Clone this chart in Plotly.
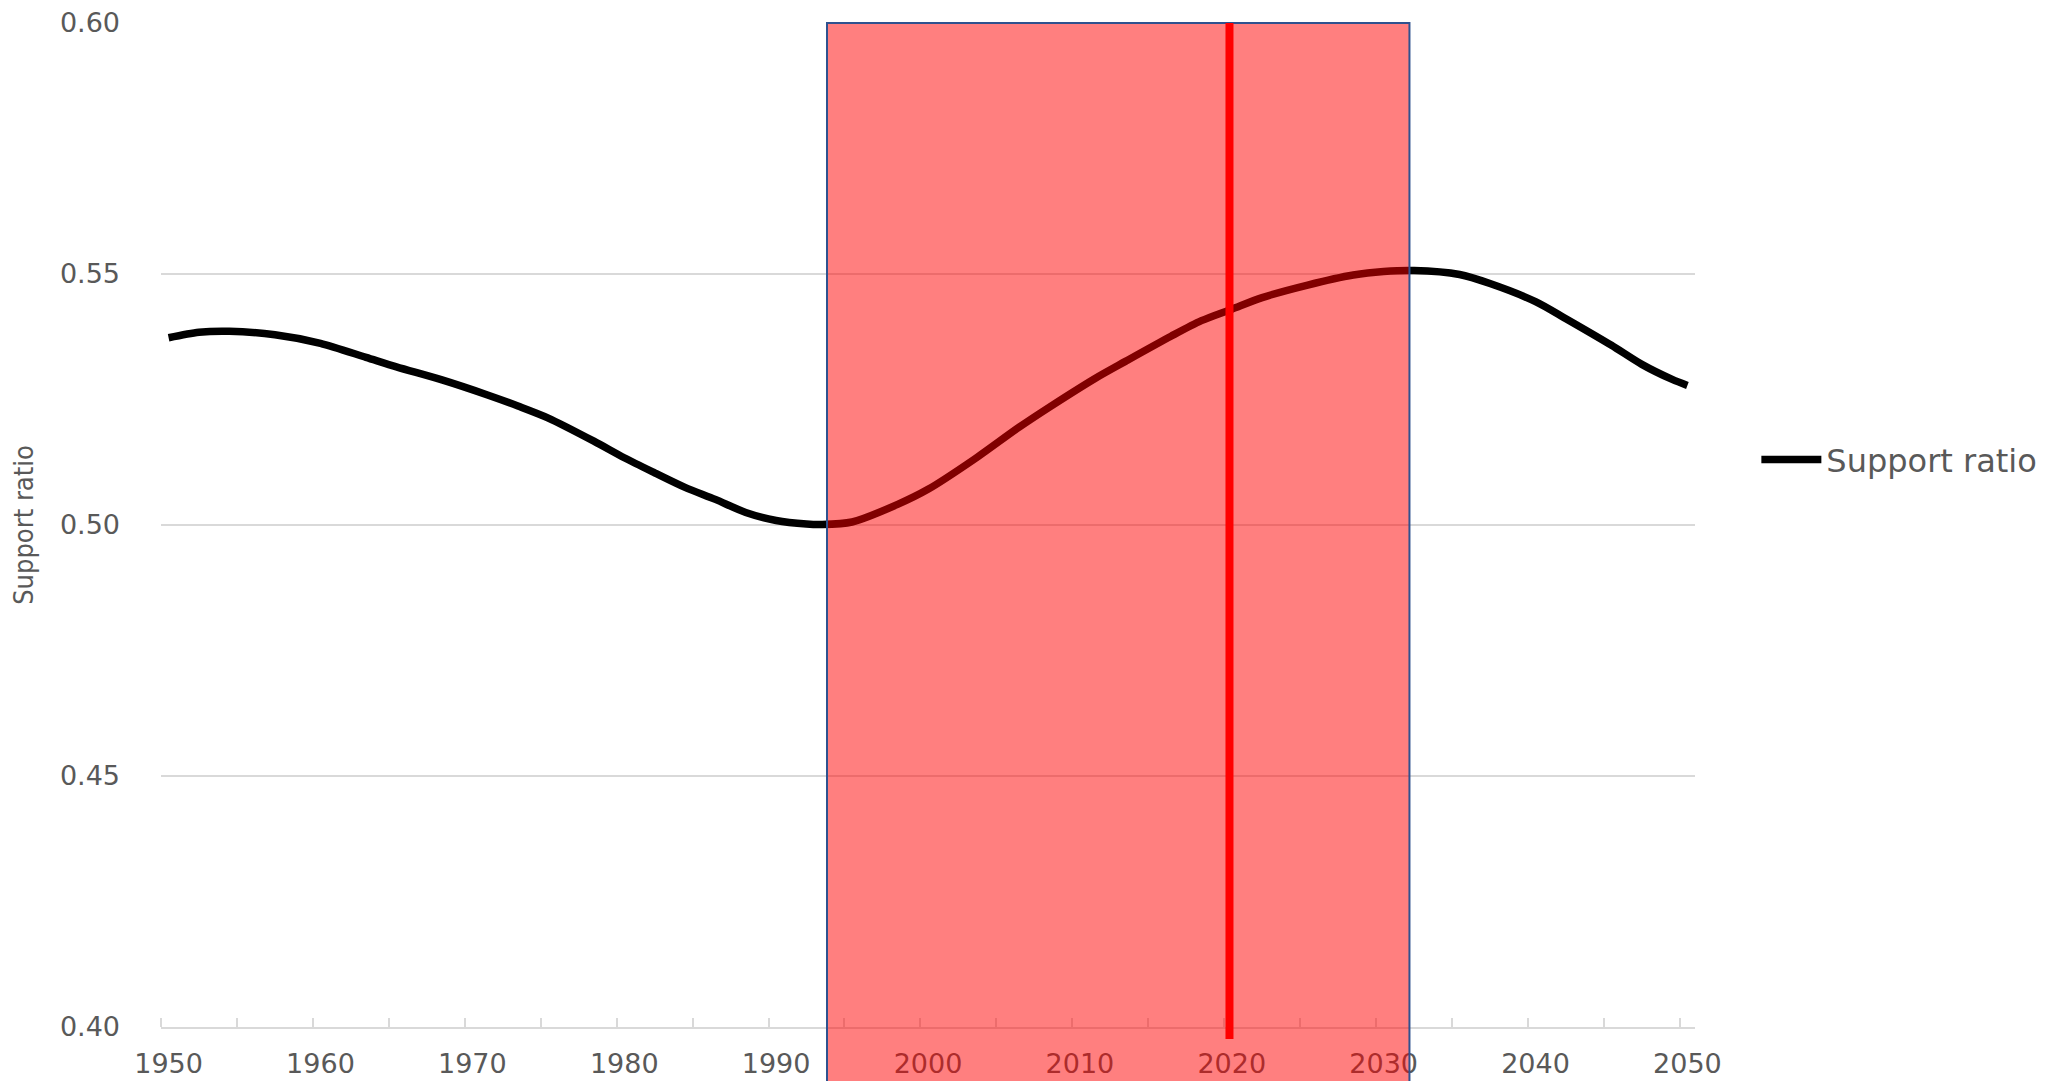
import plotly.graph_objects as go

# Data
years = [1950, 1952, 1954, 1957, 1960, 1963, 1965, 1968, 1971, 1973, 1975, 1978,
         1980, 1982, 1984, 1986, 1988, 1990, 1992, 1993, 1995, 1998, 2000, 2003,
         2006, 2008, 2011, 2013, 2016, 2018, 2020, 2022, 2025, 2028, 2030, 2032,
         2035, 2037, 2040, 2042, 2045, 2047, 2049, 2050]
support_ratio = [0.5373, 0.5384, 0.5386, 0.5379, 0.5362, 0.5334, 0.5315, 0.5289,
                 0.5259, 0.5237, 0.5213, 0.5167, 0.5134, 0.5104, 0.5075, 0.5051,
                 0.5025, 0.5009, 0.5002, 0.5001, 0.5006, 0.5041, 0.5071, 0.5130,
                 0.5195, 0.5235, 0.5292, 0.5326, 0.5376, 0.5407, 0.5430, 0.5453,
                 0.5478, 0.5498, 0.5505, 0.5507, 0.5499, 0.5481, 0.5445, 0.5411,
                 0.5358, 0.5320, 0.5290, 0.5278]

x_tick_vals = [1950, 1960, 1970, 1980, 1990, 2000, 2010, 2020, 2030, 2040, 2050]
x_tick_text = [str(v) for v in x_tick_vals]
y_tick_vals = [0.40, 0.45, 0.50, 0.55, 0.60]

highlight_start = 1993.35
highlight_end = 2031.7
marker_year = 2019.85

TICK_FONT = dict(family="DejaVu Sans, Verdana, sans-serif", size=27, color="#595959")

fig = go.Figure()
fig.add_trace(go.Scatter(
    x=years, y=support_ratio, mode="lines", name="Support ratio",
    line=dict(color="black", width=7.5, shape="spline", smoothing=0.8),
))

fig.update_layout(
    width=2049, height=1081,
    margin=dict(l=161, r=354, t=23, b=54, autoexpand=False),
    paper_bgcolor="white", plot_bgcolor="white",
    showlegend=True,
    legend=dict(x=1.040, y=0.565, xanchor="left", yanchor="middle", itemwidth=60,
                font=dict(family="DejaVu Sans, Verdana, sans-serif", size=32, color="#595959"),
                bgcolor="rgba(0,0,0,0)"),
    xaxis=dict(
        range=[1949.5, 2050.5], tickmode="array", tickvals=x_tick_vals, ticktext=x_tick_text,
        ticks="", showgrid=False, zeroline=False,
        showline=True, linecolor="#D9D9D9", linewidth=2,
        tickfont=TICK_FONT, ticklabelstandoff=12, automargin=False,
        minor=dict(tick0=1949.5, dtick=5, ticks="inside", ticklen=9,
                   tickcolor="#D9D9D9", tickwidth=2, showgrid=False),
    ),
    yaxis=dict(
        range=[0.40, 0.60], tickmode="array", tickvals=y_tick_vals, tickformat=".2f",
        ticks="", showgrid=True, gridcolor="#D9D9D9", gridwidth=2,
        zeroline=False, showline=False, automargin=True,
        tickfont=TICK_FONT, ticklabelstandoff=40,
        title=dict(text="Support ratio", standoff=18,
                   font=dict(family="Liberation Sans Narrow, DejaVu Sans Condensed, sans-serif",
                             size=27, color="#595959")),
    ),
)

fig.add_shape(type="rect", xref="x", yref="paper",
              x0=highlight_start, x1=highlight_end, y0=-0.07, y1=1,
              fillcolor="rgba(255,0,0,0.5)", line=dict(color="#2F528F", width=2),
              layer="above")
fig.add_shape(type="line", xref="x", yref="paper",
              x0=marker_year, x1=marker_year, y0=-0.012, y1=1,
              line=dict(color="#FF0000", width=8), layer="above")

fig.write_html(
    "out.html",
    config={"displayModeBar": False},
    post_script="document.body.style.margin='0';document.body.style.overflow='hidden';",
)
